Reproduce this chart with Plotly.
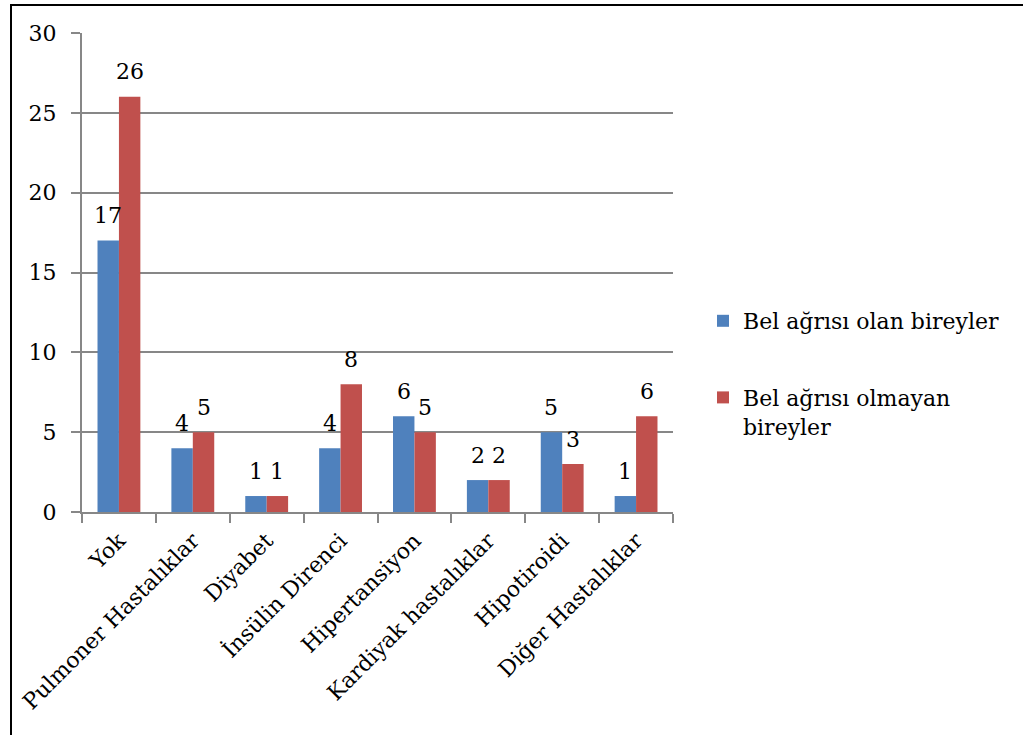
import plotly.graph_objects as go

categories = ["Yok", "Pulmoner Hastalıklar", "Diyabet", "İnsülin Direnci",
              "Hipertansiyon", "Kardiyak hastalıklar", "Hipotiroidi", "Diğer Hastalıklar"]
bel_agrisi_olan = [17, 4, 1, 4, 6, 2, 5, 1]
bel_agrisi_olmayan = [26, 5, 1, 8, 5, 2, 3, 6]
series_names = ["Bel ağrısı olan bireyler", "Bel ağrısı olmayan<br>bireyler"]
y_ticks = [0, 5, 10, 15, 20, 25, 30]

FONT = "DejaVu Serif"
FS = 22
GRID = "#878787"

fig = go.Figure()
fig.add_trace(go.Bar(x=categories, y=bel_agrisi_olan, name=series_names[0],
                     marker=dict(color="#4F81BD", line=dict(width=0)),
                     legendgroup="a"))
fig.add_trace(go.Bar(x=categories, y=bel_agrisi_olmayan, name=series_names[1],
                     marker=dict(color="#C0504D", line=dict(width=0)),
                     legendgroup="b"))

L, R, T, B = 82, 350, 33, 223
W, H = 1023, 735
pw, ph = W - L - R, H - T - B
BAR_HALF = pw / len(categories) * 0.58 / 4

def px_x(p):
    return (p - L) / pw

def px_y(p):
    return (H - B - p) / ph

annotations = []
for vals, sgn in ((bel_agrisi_olan, -1), (bel_agrisi_olmayan, 1)):
    for c, v in zip(categories, vals):
        annotations.append(dict(x=c, y=v, xref="x", yref="y", text=str(v), showarrow=False,
                                xshift=sgn * BAR_HALF, yshift=25, yanchor="middle",
                                font=dict(family=FONT, size=FS, color="black")))

fig.update_layout(
    width=W, height=H,
    margin=dict(l=L, r=R, t=T, b=B, pad=0),
    paper_bgcolor="white", plot_bgcolor="white",
    font=dict(family=FONT, size=FS, color="black"),
    barmode="group", bargap=0.42, bargroupgap=0,
    showlegend=True,
    legend=dict(x=px_x(703), y=px_y(300), xanchor="left", yanchor="top",
                font=dict(family=FONT, size=FS, color="black"),
                traceorder="grouped", tracegroupgap=45, valign="top",
                itemwidth=30, bgcolor="rgba(0,0,0,0)"),
    xaxis=dict(type="category", showgrid=False, showline=True, linecolor=GRID, linewidth=2,
               ticks="outside", tickson="boundaries", ticklen=9, tickcolor=GRID, tickwidth=2,
               tickangle=-45, tickfont=dict(family=FONT, size=FS, color="black"),
               ticklabelstandoff=5),
    yaxis=dict(range=[0, 30], tickvals=y_ticks, showgrid=True, gridcolor=GRID, gridwidth=1.5,
               showline=True, linecolor=GRID, linewidth=2, ticks="outside", ticklen=9,
               tickcolor=GRID, tickwidth=1.5, zeroline=False,
               tickfont=dict(family=FONT, size=FS, color="black"), ticklabelstandoff=10),
    annotations=annotations,
    shapes=[dict(type="rect", xref="paper", yref="paper",
                 x0=px_x(11), x1=px_x(1040), y0=px_y(750), y1=px_y(5),
                 line=dict(color="black", width=2), fillcolor="rgba(0,0,0,0)", layer="below")],
)

fig.write_html("out.html")
